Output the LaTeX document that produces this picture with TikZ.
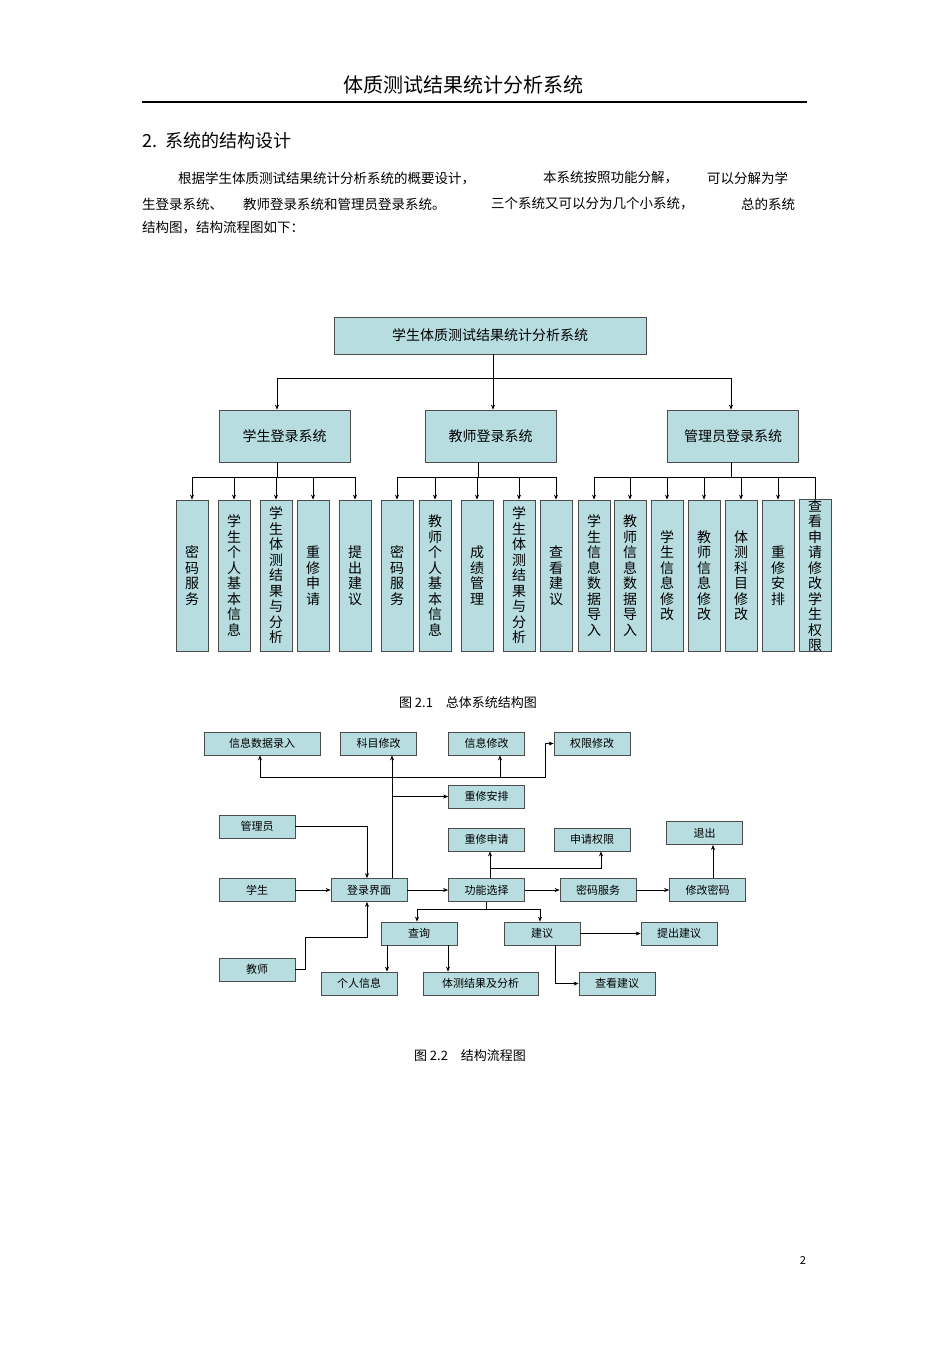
\documentclass[tikz,border=0pt]{standalone}
\usepackage{fontspec}
\setmainfont{Noto Sans CJK SC}
\usetikzlibrary{arrows.meta}
\definecolor{boxc}{RGB}{183,221,224}
\begin{document}
\begin{tikzpicture}[x=1pt,y=-1pt,
  bx/.style={draw=black!70,line width=0.8pt,fill=boxc,inner sep=0pt},
  leaf/.style={bx,minimum width=32pt,minimum height=151pt,align=center,font=\fontsize{14}{15.5}\selectfont},
  mid/.style={bx,minimum width=131pt,minimum height=52pt,font=\fontsize{14}{16}\selectfont},
  fb/.style={bx,minimum width=76pt,minimum height=23pt,font=\fontsize{11}{13}\selectfont},
  ar/.style={-{Stealth[length=5pt,width=4pt]},line width=0.6pt},
  ln/.style={line width=0.6pt},
  txt/.style={anchor=west,inner sep=0pt,font=\fontsize{13.5}{16}\selectfont}]
\useasboundingbox (0,0) rectangle (950,1345);
% header
\node[inner sep=0pt,font=\fontsize{20}{22}\selectfont] (hd) at (463,85) {体质测试结果统计分析系统};
\draw[line width=1.2pt] (142,102) -- (807,102);
\node[txt,font=\fontsize{18}{20}\selectfont] (sec) at (142,141) {2.\ \ 系统的结构设计};
\node[txt] (p1) at (178,178) {根据学生体质测试结果统计分析系统的概要设计，};
\node[txt] (p2) at (543,178) {本系统按照功能分解，};
\node[txt] (p3) at (707,178) {可以分解为学};
\node[txt] (p4) at (142,204) {生登录系统、};
\node[txt] (p5) at (243,204) {教师登录系统和管理员登录系统。};
\node[txt] (p6) at (491,204) {三个系统又可以分为几个小系统，};
\node[txt] (p7) at (741,204) {总的系统};
\node[txt] (p8) at (142,228) {结构图，结构流程图如下：};
% diagram 1
\node[bx,minimum width=312pt,minimum height=37pt,font=\fontsize{14}{16}\selectfont] (top) at (490,335.5) {学生体质测试结果统计分析系统};
\node[mid] (s) at (284.5,436) {学生登录系统};
\node[mid] (t) at (490.5,436) {教师登录系统};
\node[mid] (a) at (733,436) {管理员登录系统};
\draw[ln] (top.south -| 493,0) -- (493,378);
\draw[ln] (277,378) -- (731,378);
\draw[ar] (277,378) -- (s.north -| 277,0);
\draw[ar] (493,378) -- (t.north -| 493,0);
\draw[ar] (731,378) -- (a.north -| 731,0);
\foreach \n/\x/\t in {s1/192/密\\码\\服\\务, s2/234/学\\生\\个\\人\\基\\本\\信\\息, s3/276/学\\生\\体\\测\\结\\果\\与\\分\\析, s4/313/重\\修\\申\\请, s5/355/提\\出\\建\\议,
  t1/397/密\\码\\服\\务, t2/435/教\\师\\个\\人\\基\\本\\信\\息, t3/477/成\\绩\\管\\理, t4/519/学\\生\\体\\测\\结\\果\\与\\分\\析, t5/556/查\\看\\建\\议,
  a1/594/学\\生\\信\\息\\数\\据\\导\\入, a2/630/教\\师\\信\\息\\数\\据\\导\\入, a3/667/学\\生\\信\\息\\修\\改, a4/704/教\\师\\信\\息\\修\\改, a5/741/体\\测\\科\\目\\修\\改, a6/778/重\\修\\安\\排, a7/815/查\\看\\申\\请\\修\\改\\学\\生\\权\\限}
  {\node[leaf] (\n) at (\x,575.5) {\t};}
\draw[ln] (s.south -| 277,0) -- (277,477);
\draw[ln] (192,477) -- (355,477);
\foreach \n in {s1,s2,s3,s4,s5} \draw[ar] (\n.north |- 0,477) -- (\n.north);
\draw[ln] (t.south -| 478,0) -- (478,477);
\draw[ln] (397,477) -- (556,477);
\foreach \n in {t1,t2,t3,t4,t5} \draw[ar] (\n.north |- 0,477) -- (\n.north);
\draw[ln] (a.south -| 731,0) -- (731,477);
\draw[ln] (594,477) -- (815,477);
\foreach \n in {a1,a2,a3,a4,a5,a6} \draw[ar] (\n.north |- 0,477) -- (\n.north);
\draw[ln] (a7.north |- 0,477) -- (a7.north);
\node[font=\fontsize{13}{15}\selectfont] (c1) at (468,703) {图 2.1\quad 总体系统结构图};
% diagram 2
\node[fb,minimum width=116pt] (xx) at (262,743.5) {信息数据录入};
\node[fb] (km) at (378.5,743.5) {科目修改};
\node[fb] (xg) at (486.5,743.5) {信息修改};
\node[fb] (qx) at (592,743.5) {权限修改};
\node[fb] (ap) at (486.5,796.5) {重修安排};
\node[fb] (gl) at (257,826.5) {管理员};
\node[fb] (sq) at (486.5,839.5) {重修申请};
\node[fb] (qq) at (592,839.5) {申请权限};
\node[fb] (tc) at (704.5,833) {退出};
\node[fb] (xs) at (257,890) {学生};
\node[fb] (dl) at (369,890) {登录界面};
\node[fb] (gn) at (486.5,890) {功能选择};
\node[fb] (mm) at (598,890) {密码服务};
\node[fb] (xm) at (707.5,890) {修改密码};
\node[fb] (cx) at (419,933.5) {查询};
\node[fb] (jy) at (542,933.5) {建议};
\node[fb] (tj) at (679,933.5) {提出建议};
\node[fb] (js) at (257,969.5) {教师};
\node[fb] (gr) at (359,983.5) {个人信息};
\node[fb,minimum width=115pt] (tc2) at (480.5,983.5) {体测结果及分析};
\node[fb] (ck) at (617,983.5) {查看建议};
\draw[ar] (gl.east) -| (dl.north -| 367,0);
\draw[ar] (xs) -- (dl);
\draw[ar] (js.east) -- (305,969.5) -- (305,937) -| (dl.south -| 367,0);
\draw[ar] (dl.north -| 392,0) -- (km.south -| 392,0);
\draw[ar] (392,796.5) -- (ap.west);
\draw[ln] (260,777) -- (545,777) -- (545,743.5);
\draw[ar] (545,743.5) -- (qx.west);
\draw[ar] (260,777) -- (xx.south -| 260,0);
\draw[ar] (500,777) -- (xg.south -| 500,0);
\draw[ar] (dl) -- (gn);
\draw[ar] (gn.north -| 490,0) -- (sq.south -| 490,0);
\draw[ar] (490,868) -| (qq.south -| 601,0);
\draw[ar] (gn) -- (mm);
\draw[ar] (mm) -- (xm);
\draw[ar] (xm.north -| 713,0) -- (tc.south -| 713,0);
\draw[ln] (gn.south -| 486,0) -- (486,909);
\draw[ar] (486,909) -| (cx.north -| 417,0);
\draw[ar] (486,909) -| (jy.north -| 540,0);
\draw[ar] (cx.south -| 387,0) -- (gr.north -| 387,0);
\draw[ar] (cx.south -| 448,0) -- (tc2.north -| 448,0);
\draw[ar] (jy) -- (tj);
\draw[ar] (jy.south -| 555,0) |- (ck.west);
\node[font=\fontsize{13}{15}\selectfont] (c2) at (470,1056) {图 2.2\quad 结构流程图};
\node[font=\fontsize{11}{13}\selectfont] (pg) at (803,1260) {2};
\end{tikzpicture}
\end{document}
